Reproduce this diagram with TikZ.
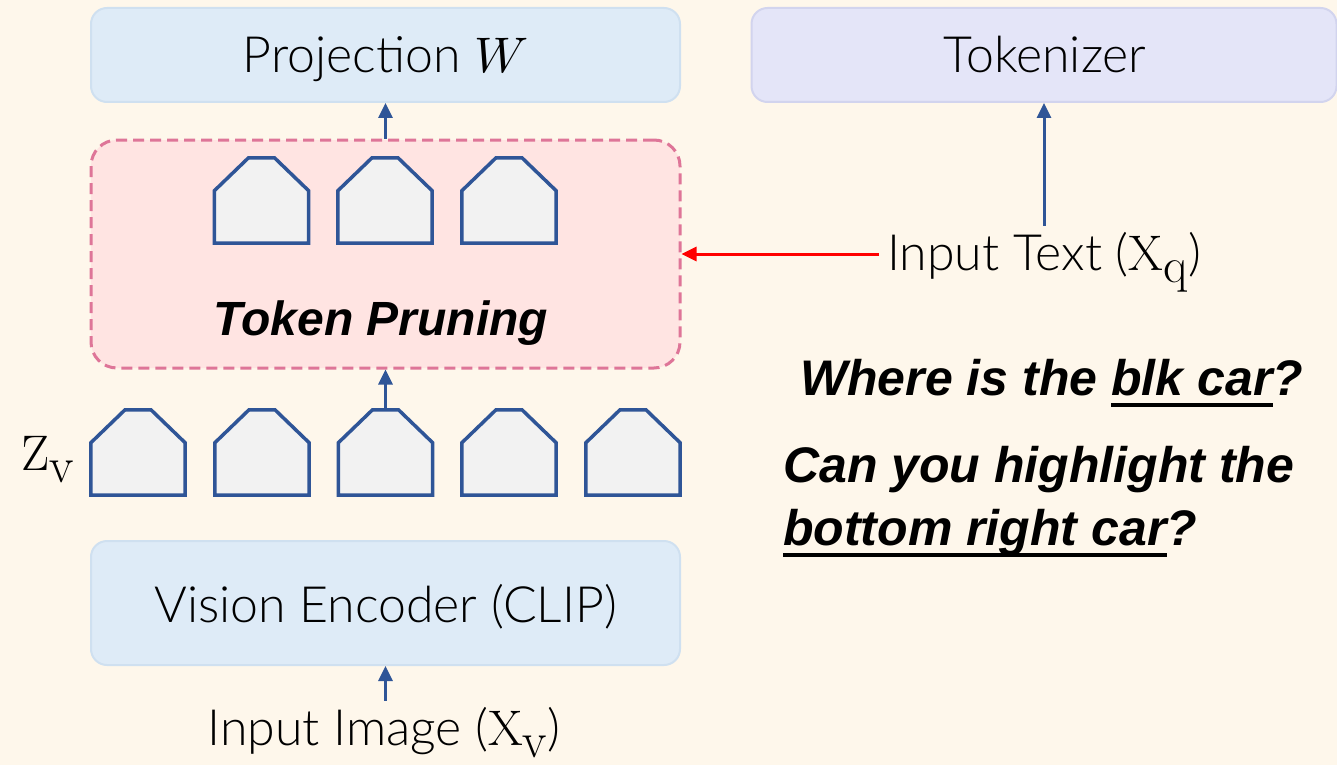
\documentclass[tikz,border=0pt]{standalone}
\usepackage{fontspec}
\usepackage{unicode-math}
\setmathfont{Latin Modern Math}
\newfontfamily\lightfont{Lato Light}
\newfontfamily\bifont{Liberation Sans}
\usetikzlibrary{calc,arrows.meta}
\definecolor{bg}{HTML}{FEF7EB}
\definecolor{projfill}{HTML}{DEEBF7}
\definecolor{projdraw}{HTML}{CFE0F0}
\definecolor{tokfill}{HTML}{E4E5F8}
\definecolor{tokdraw}{HTML}{D2D4EE}
\definecolor{prunefill}{HTML}{FFE4E2}
\definecolor{prunedraw}{HTML}{DE7598}
\definecolor{arrblue}{HTML}{2F5597}
\definecolor{pentfill}{HTML}{F2F2F2}
\newcommand\myul[1]{\setbox0\hbox{#1}\rlap{\rule[-12pt]{\wd0}{4pt}}\box0}
\newcommand\msub[2]{\mathrm{#1}_{\textstyle\mathrm{#2}}}
\tikzset{
  box/.style={rounded corners=16pt, line width=2pt, inner sep=0pt,
    minimum width=589pt, font=\lightfont\fontsize{50}{60}\selectfont, text=black},
  pentbox/.style={minimum width=94pt, minimum height=85pt, inner sep=0pt, draw=none},
  pentline/.style={draw=arrblue, fill=pentfill, line width=3.5pt},
  barrow/.style={draw=arrblue, line width=3pt, -{Triangle[length=15pt,width=14pt]}},
  rarrow/.style={draw=red, line width=3pt, -{Triangle[length=15pt,width=14pt]}},
  lbl/.style={font=\lightfont\fontsize{50}{60}\selectfont, inner sep=6pt},
  qtext/.style={font=\bifont\bfseries\itshape\fontsize{50}{60}\selectfont, inner sep=0pt, anchor=base west},
}
\begin{document}
\begin{tikzpicture}[x=1pt,y=-1pt]
\fill[bg] (0,0) rectangle (1337,765);
\useasboundingbox (0,0) rectangle (1337,765);

% boxes
\node[box, fill=projfill, draw=projdraw, minimum height=94pt] (proj) at (385.5,55) {};
\node[lbl, anchor=base] at (385.5,73) {Projection $W$};
\node[box, fill=tokfill, draw=tokdraw, minimum width=585pt, minimum height=94pt] (tok) at (1044,55) {};
\node[lbl, anchor=base] at (1045,73) {Tokenizer};
\node[box, fill=prunefill, draw=prunedraw, dash pattern=on 11pt off 6pt, line width=3pt,
      rounded corners=26pt, minimum height=228pt] (prune) at (385.5,254) {};
\node[font=\bifont\bfseries\itshape\fontsize{48}{58}\selectfont, anchor=base] (prunelbl) at (381,335) {Token Pruning};
\node[box, fill=projfill, draw=projdraw, minimum height=124pt] (vis) at (385.5,603) {};
\node[lbl, anchor=base] at (385.5,622) {Vision Encoder (CLIP)};

% pentagons
\foreach \n/\cx/\cy in {t1/261.5/200.5, t2/385/200.5, t3/509/200.5,
                        b1/138/452.5, b2/262/452.5, b3/385.5/452.5, b4/509/452.5, b5/633/452.5}{
  \node[pentbox] (\n) at (\cx,\cy) {};
  \draw[pentline] (\n.south west) -- (\n.south east) -- ($(\n.north east)+(0,33)$)
     -- ($(\n.north)+(13,0)$) -- ($(\n.north)+(-13,0)$) -- ($(\n.north west)+(0,33)$) -- cycle;
}
\node[anchor=base west, inner sep=0pt, font=\fontsize{50}{60}\selectfont] (zv) at (21,470) {$\msub{Z}{v}$};

% input labels
\node[lbl, anchor=base] (inimg) at (384,745) {Input Image ($\msub{X}{v}$)};
\node[lbl, anchor=base west] (intext) at (881,270) {Input Text ($\msub{X}{q}$)};
\coordinate (redstart) at ($(intext.base west)+(-2,-16)$);

% arrows
\draw[barrow] (vis.south |- inimg.north) -- (vis.south);
\draw[barrow] (b3.north) -- (prune.south);
\draw[barrow] (prune.north) -- (proj.south);
\draw[barrow] (tok.south |- intext.north) -- (tok.south);
\draw[rarrow] (redstart) -- (redstart -| prune.east);

% questions
\node[qtext] (q1) at (800,395) {Where is the \myul{blk car}?};
\node[qtext] (q2) at (783,482) {Can you highlight the};
\node[qtext] (q3) at (783,545) {\myul{bottom right car}?};
\end{tikzpicture}
\end{document}
